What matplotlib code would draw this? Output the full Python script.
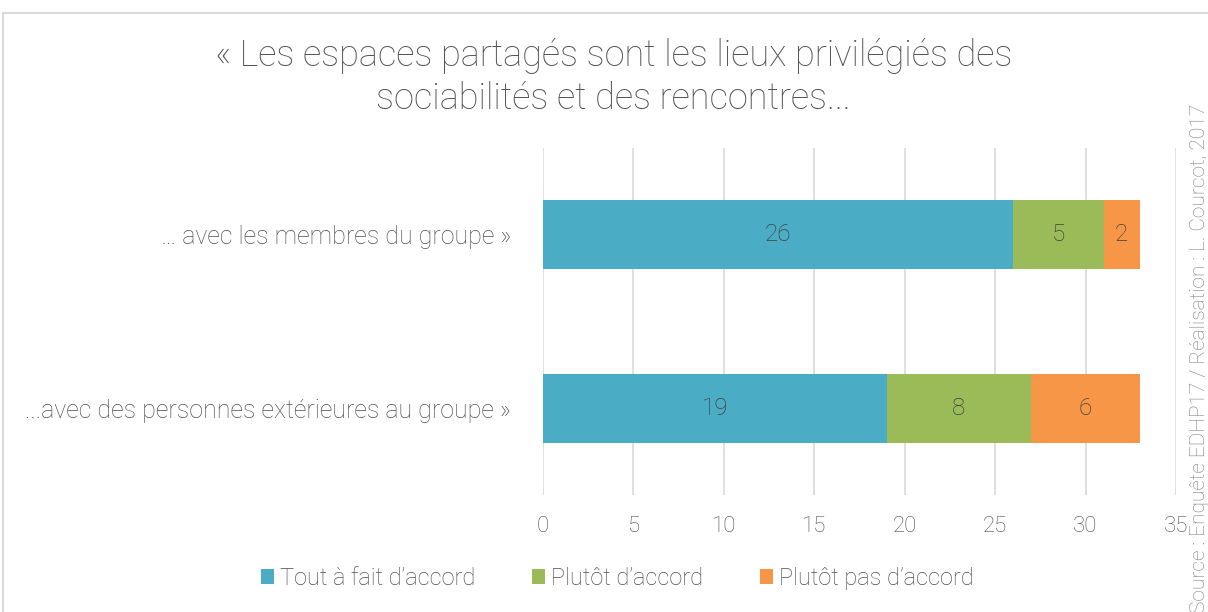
import matplotlib.pyplot as plt
from matplotlib.patches import Rectangle

categories = ['… avec les membres du groupe »', '...avec des personnes extérieures au groupe »']
series_names = ['Tout à fait d’accord', 'Plutôt d’accord', 'Plutôt pas d’accord']
tout_a_fait = [26, 19]
plutot = [5, 8]
plutot_pas = [2, 6]
colors = ['#4BACC6', '#9BBB59', '#F79646']
txt = '#505050'

plt.rcParams['font.family'] = ['Roboto', 'DejaVu Sans']
plt.rcParams['font.weight'] = 'light'

fig = plt.figure(figsize=(12.08, 6.12), dpi=100)
ax = fig.add_axes([0.4495, 0.1912, 0.524, 0.567])

ypos = [0, 1]
left = [0, 0]
for vals, name, c in zip([tout_a_fait, plutot, plutot_pas], series_names, colors):
    bars = ax.barh(ypos, vals, left=left, height=0.4, color=c, label=name, zorder=3)
    for b, v in zip(bars, vals):
        ax.text(b.get_x() + b.get_width() / 2, b.get_y() + b.get_height() / 2, str(v),
                ha='center', va='center', fontsize=17.5, color='#404040', zorder=4)
    left = [l + v for l, v in zip(left, vals)]

ax.set_ylim(1.5, -0.5)
ax.set_xlim(0, 35)
ax.set_xticks(range(0, 36, 5))
ax.set_yticks(ypos)
ax.set_yticklabels(categories)
ax.tick_params(axis='x', length=0, labelsize=16, labelcolor=txt, pad=15)
ax.tick_params(axis='y', length=0, labelsize=18, labelcolor=txt, pad=23)
ax.grid(axis='x', color='#D9D9D9', linewidth=1.2, zorder=0)
for s in ax.spines.values():
    s.set_visible(False)

fig.text(0.508, 0.874, '« Les espaces partagés sont les lieux privilégiés des\nsociabilités et des rencontres...',
         ha='center', va='center', fontsize=26, color=txt, linespacing=1.25)

leg = fig.legend(loc='center', bbox_to_anchor=(0.511, 0.055), ncol=3, frameon=False,
                 fontsize=17, handlelength=0.55, handleheight=0.55, handletextpad=0.25,
                 columnspacing=2.4, labelcolor=txt)

fig.text(0.985, 0.415, 'Source : Enquête EDHP17 / Réalisation : L. Courcot, 2017',
         rotation=90, ha='left', va='center', fontsize=15, color='#7F7F7F')

fig.patches.append(Rectangle((3 / 1208, -0.1), 1.2, 1 - 13 / 612 + 0.1, transform=fig.transFigure,
                             fill=False, edgecolor='#D9D9D9', linewidth=1.5))

fig.savefig('out.png', dpi=100)
